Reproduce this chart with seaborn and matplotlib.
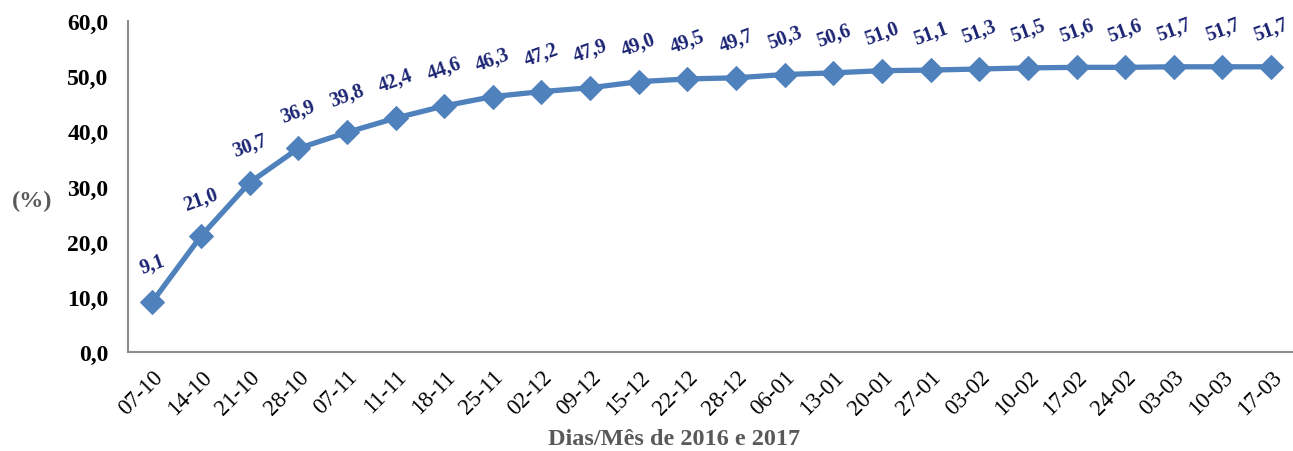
import matplotlib
matplotlib.use("Agg")
import matplotlib.pyplot as plt
import seaborn as sns
import pandas as pd

dates = ["07-10", "14-10", "21-10", "28-10", "07-11", "11-11", "18-11", "25-11",
         "02-12", "09-12", "15-12", "22-12", "28-12", "06-01", "13-01", "20-01",
         "27-01", "03-02", "10-02", "17-02", "24-02", "03-03", "10-03", "17-03"]
values = [9.1, 21.0, 30.7, 36.9, 39.8, 42.4, 44.6, 46.3, 47.2, 47.9, 49.0, 49.5,
          49.7, 50.3, 50.6, 51.0, 51.1, 51.3, 51.5, 51.6, 51.6, 51.7, 51.7, 51.7]
yticks = [0, 10, 20, 30, 40, 50, 60]

sns.set_theme(style="white")
plt.rcParams['font.family'] = ['Liberation Serif', 'DejaVu Serif']

df = pd.DataFrame({"x": range(len(dates)), "y": values})

fig = plt.figure(figsize=(12.93, 4.52), dpi=100)
ax = fig.add_axes([128/1293, 1 - 353/452, (1293 - 128)/1293, (353 - 22)/452])

sns.lineplot(data=df, x="x", y="y", ax=ax, color="#4F81BD", linewidth=3.8,
             marker="D", markersize=12, markeredgecolor="#4F81BD")

for i, v in enumerate(values):
    ax.annotate(f"{v:.1f}".replace(".", ","), (i, v), xytext=(0, 27),
                textcoords="offset points", ha="center", va="center",
                rotation=20, fontsize=14.5, fontweight="bold", color="#1B2473")

ax.set_xlim(-0.5, 23.45)
ax.set_ylim(0, 60)
ax.set_yticks(yticks)
ax.set_yticklabels([f"{t:.1f}".replace(".", ",") for t in yticks],
                   fontsize=17, fontweight="bold", color="black")
ax.set_xticks(range(len(dates)))
ax.set_xticklabels(dates, rotation=45, ha="right", rotation_mode="anchor",
                   fontsize=16.5, color="black")
ax.tick_params(axis="y", length=0, pad=14)
ax.tick_params(axis="x", length=0, pad=10)

for s in ["top", "right"]:
    ax.spines[s].set_visible(False)
for s in ["left", "bottom"]:
    ax.spines[s].set_color("#8C8C8C")
    ax.spines[s].set_linewidth(1.5)

ax.set_xlabel("Dias/Mês de 2016 e 2017", fontsize=17.5, fontweight="bold",
              color="#595959", va="center")
ax.xaxis.set_label_coords((674 - 128) / 1165, (353 - 440) / 331)
ax.set_ylabel("(%)", fontsize=17.5, fontweight="bold", color="#595959",
              rotation=0, va="center", ha="center")
ax.yaxis.set_label_coords((32 - 128) / 1165, (353 - 201) / 331)

fig.savefig("out.png", dpi=100)
